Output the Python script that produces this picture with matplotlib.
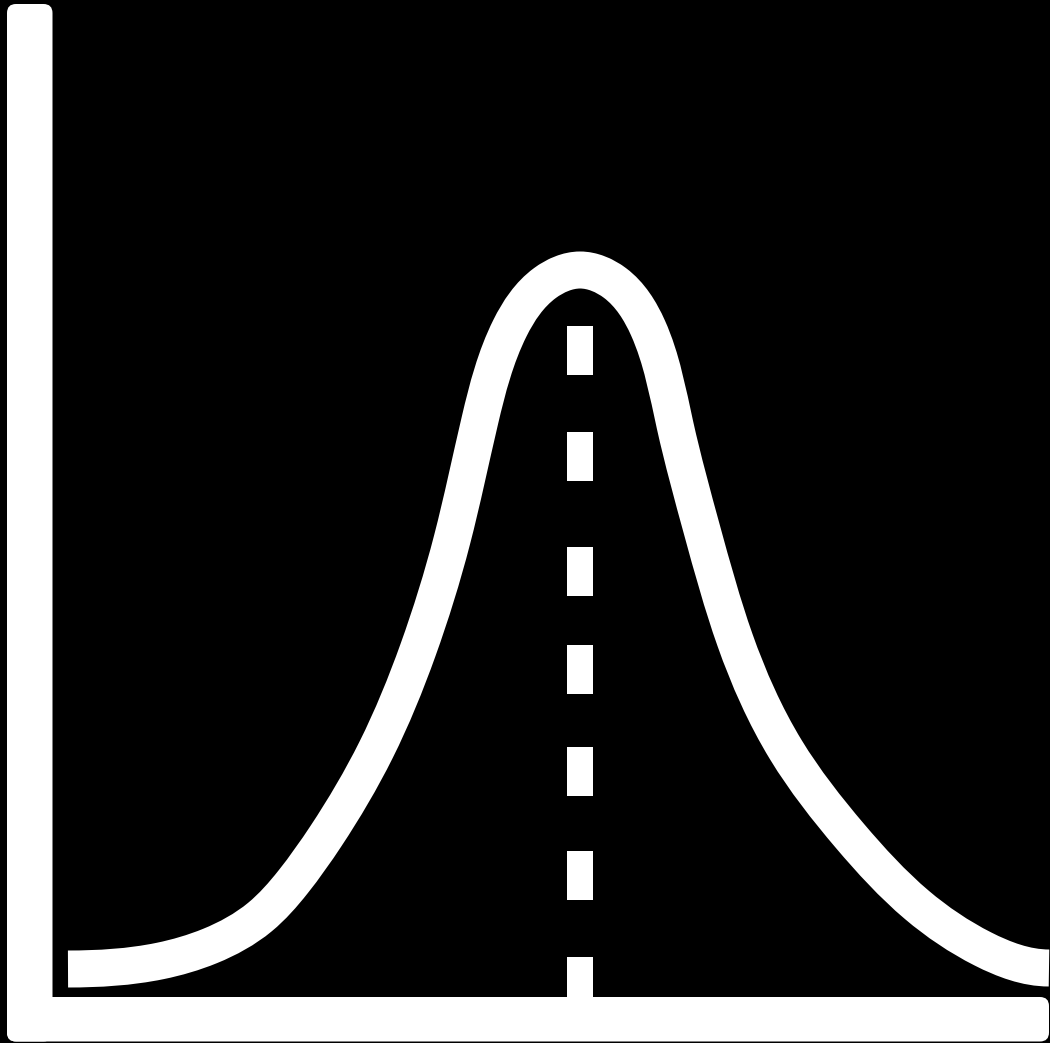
import matplotlib.pyplot as plt
import numpy as np
from matplotlib.patches import FancyBboxPatch, PathPatch
from matplotlib.path import Path

# canvas is laid out in pixel units (y grows downward)
W, H = 1050, 1043

# bell curve centre line, key points
curve_x = [68, 160, 210, 260, 293, 326, 376, 418, 452, 480, 510, 545, 580,
           615, 648, 675, 702, 735, 786, 850, 917, 983, 1049]
curve_y = [969, 961, 946, 917, 882, 836, 750, 650, 540, 420, 328, 283, 270,
           283, 328, 425, 530, 640, 750, 836, 905, 949, 968]

# mean marker: dash segments (top, bottom)
mean_x = 580
dash_top = [326, 432, 547, 645, 747, 851, 957]
dash_bottom = [375, 481, 596, 694, 796, 900, 1000]


def spline_slopes(t, v, d0, dn):
    # clamped cubic spline: first derivatives at the knots
    n = len(t)
    h = np.diff(t)
    A = np.zeros((n, n))
    b = np.zeros(n)
    A[0, 0] = A[-1, -1] = 1
    b[0], b[-1] = d0, dn
    for i in range(1, n - 1):
        A[i, i - 1] = h[i]
        A[i, i] = 2 * (h[i - 1] + h[i])
        A[i, i + 1] = h[i - 1]
        b[i] = 3 * (h[i] * (v[i] - v[i - 1]) / h[i - 1]
                    + h[i - 1] * (v[i + 1] - v[i]) / h[i])
    return np.linalg.solve(A, b)


def smooth_path(xs, ys):
    # C2 spline through the read points (chord-length knots), flat at the ends
    p = np.column_stack([xs, ys]).astype(float)
    t = np.concatenate([[0], np.cumsum(np.hypot(*np.diff(p, axis=0).T))])
    dx = spline_slopes(t, p[:, 0], 1, 1)
    dy = spline_slopes(t, p[:, 1], 0, 0)
    d = np.column_stack([dx, dy])
    verts, codes = [p[0]], [Path.MOVETO]
    for i in range(len(p) - 1):
        h = (t[i + 1] - t[i]) / 3
        verts += [p[i] + d[i] * h, p[i + 1] - d[i + 1] * h, p[i + 1]]
        codes += [Path.CURVE4] * 3
    return Path(verts, codes)


fig = plt.figure(figsize=(W / 100, H / 100), dpi=100, facecolor="black")
ax = fig.add_axes([0, 0, 1, 1])
ax.set_facecolor("black")
ax.set_xlim(0, W)
ax.set_ylim(H, 0)
ax.axis("off")

lw_pt = 37 * 72 / 100
curve = PathPatch(smooth_path(curve_x, curve_y), fill=False, ec="white",
                  lw=lw_pt, capstyle="butt", joinstyle="round")
ax.add_patch(curve)

heights = [b - t for t, b in zip(dash_top, dash_bottom)]
ax.bar([mean_x] * len(dash_top), heights, bottom=dash_top, width=26,
       color="white", linewidth=0)

# L-shaped axes
style = "round,pad=0,rounding_size=9"
ax.add_patch(FancyBboxPatch((7, 4), 45.5, 1037.5, boxstyle=style,
                            fc="white", ec="none"))
ax.add_patch(FancyBboxPatch((7, 997), 1042, 44.5, boxstyle=style,
                            fc="white", ec="none"))

fig.savefig("out.png", dpi=100, facecolor="black")
plt.close(fig)
